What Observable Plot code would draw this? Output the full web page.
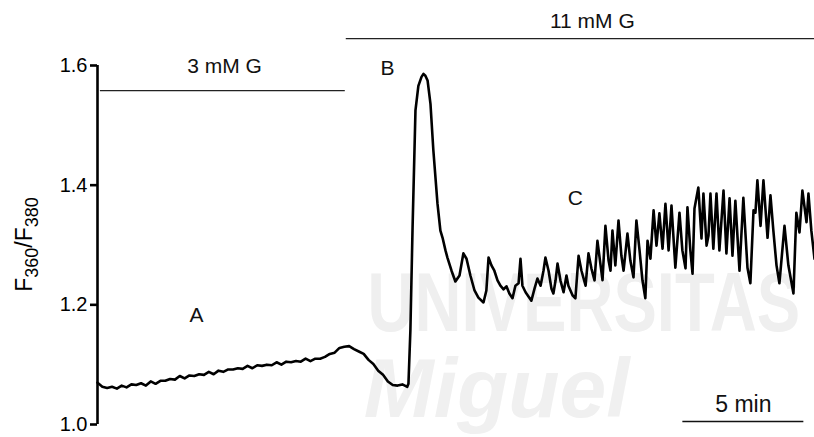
<!DOCTYPE html>
<html>
<head>
<meta charset="utf-8">
<script src="https://cdn.jsdelivr.net/npm/d3@7"></script>
<script src="https://cdn.jsdelivr.net/npm/@observablehq/plot@0.6"></script>
<style>
  html, body { margin: 0; padding: 0; background: #fff; }
  #chart svg { display: block; }
</style>
</head>
<body>
<div id="chart"></div>
<script>
// ---- Data (time in minutes, fluorescence ratio F360/F380) ----
const timeLowGlucose = [0,0.2,0.4,0.6,0.8,1.0,1.2,1.4,1.6,1.8,2.0,2.2,2.4,2.6,2.8,3.0,3.2,3.4,3.6,3.8,4.0,4.2,4.4,4.6,4.8,5.0,5.2,5.4,5.6,5.8,6.0,6.2,6.4,6.6,6.8,7.0,7.2,7.4,7.6,7.8,8.0,8.2,8.4,8.6,8.8,9.0,9.2,9.4,9.6,9.8,10.0,10.2,10.4,10.6,10.8,11.0,11.2,11.4,11.6,11.8,12.0,12.2,12.4,12.6,12.8];
const ratioLowGlucose = [1.070,1.063,1.061,1.063,1.060,1.065,1.062,1.067,1.066,1.069,1.065,1.072,1.068,1.073,1.073,1.076,1.075,1.081,1.077,1.082,1.081,1.084,1.083,1.088,1.084,1.090,1.088,1.092,1.092,1.094,1.093,1.098,1.094,1.099,1.098,1.100,1.099,1.104,1.100,1.105,1.104,1.106,1.105,1.110,1.106,1.110,1.110,1.113,1.118,1.120,1.128,1.130,1.131,1.126,1.122,1.118,1.108,1.101,1.090,1.083,1.072,1.066,1.065,1.067,1.063];
const timeHighGlucose = [12.85,12.93,13.02,13.14,13.26,13.39,13.47,13.55,13.64,13.76,13.88,14.05,14.17,14.26,14.38,14.46,14.63,14.79,14.96,15.12,15.25,15.41,15.58,15.74,15.95,16.07,16.16,16.28,16.40,16.53,16.65,16.78,16.90,17.02,17.15,17.27,17.40,17.48,17.56,17.69,17.81,17.93,18.06,18.18,18.31,18.43,18.51,18.64,18.76,18.84,18.93,19.01,19.13,19.26,19.38,19.46,19.63,19.75,19.88,20.00,20.17,20.29,20.41,20.54,20.66,20.79,20.87,20.99,21.12,21.20,21.28,21.40,21.53,21.65,21.74,21.90,22.02,22.15,22.27,22.40,22.52,22.64,22.73,22.85,22.98,23.10,23.22,23.35,23.47,23.60,23.72,23.88,24.05,24.17,24.30,24.38,24.50,24.59,24.67,24.83,24.96,25.04,25.17,25.25,25.33,25.45,25.58,25.70,25.87,25.99,26.12,26.24,26.36,26.53,26.69,26.86,26.98,27.11,27.19,27.27,27.40,27.52,27.69,27.81,27.93,28.06,28.18,28.39,28.55,28.76,28.88,29.01,29.13,29.30,29.38,29.50,29.63];
const ratioHighGlucose = [1.068,1.157,1.329,1.525,1.566,1.581,1.586,1.583,1.575,1.536,1.458,1.369,1.324,1.312,1.291,1.279,1.257,1.239,1.249,1.286,1.277,1.249,1.224,1.212,1.204,1.224,1.279,1.266,1.257,1.241,1.232,1.226,1.231,1.219,1.211,1.232,1.236,1.277,1.232,1.221,1.214,1.207,1.227,1.244,1.232,1.257,1.279,1.257,1.227,1.219,1.241,1.269,1.241,1.221,1.249,1.232,1.216,1.211,1.282,1.257,1.232,1.286,1.261,1.241,1.307,1.266,1.241,1.332,1.274,1.257,1.324,1.266,1.341,1.282,1.257,1.319,1.274,1.246,1.341,1.291,1.241,1.211,1.307,1.277,1.358,1.299,1.353,1.294,1.369,1.291,1.366,1.262,1.354,1.291,1.261,1.363,1.291,1.252,1.361,1.396,1.311,1.386,1.299,1.316,1.386,1.294,1.386,1.291,1.391,1.286,1.378,1.282,1.374,1.257,1.379,1.262,1.236,1.358,1.354,1.408,1.332,1.408,1.312,1.383,1.324,1.266,1.236,1.332,1.266,1.219,1.354,1.321,1.391,1.338,1.386,1.324,1.277];

// stimulus periods (glucose)
const stimLabels = ["3 mM G", "11 mM G"];
const stimStart = [0.12, 10.28];
const stimEnd = [10.24, 29.63];
const stimLevel = [1.558, 1.645];
const stimLabelTime = [5.25, 20.45];
const stimLabelLevel = [1.598, 1.674];

// phase annotations
const phaseLabels = ["A", "B", "C"];
const phaseTime = [4.09, 11.98, 19.75];
const phaseRatio = [1.182, 1.595, 1.378];

// y ticks
const yTicks = [1.0, 1.2, 1.4, 1.6];

// time scale bar
const scaleBarStart = 24.19;
const scaleBarLength = 5;
const scaleBarLevel = 1.005;
const scaleBarLabel = "5 min";
const scaleBarLabelLevel = 1.033;

// background watermark text
const watermarkText = ["UNIVERSITAS", "Miguel"];
const watermarkTime = [11.16, 11.0];
const watermarkLevel = [1.157, 1.012];

// ---- Build tables ----
const trace = timeLowGlucose.map((t, i) => ({t, v: ratioLowGlucose[i]}))
  .concat(timeHighGlucose.map((t, i) => ({t, v: ratioHighGlucose[i]})));
const stimuli = stimLabels.map((label, i) => ({label, x1: stimStart[i], x2: stimEnd[i], y: stimLevel[i], lx: stimLabelTime[i], ly: stimLabelLevel[i]}));
const phases = phaseLabels.map((label, i) => ({label, t: phaseTime[i], v: phaseRatio[i]}));
const scaleBar = [{x1: scaleBarStart, x2: scaleBarStart + scaleBarLength, y: scaleBarLevel, label: scaleBarLabel, lx: scaleBarStart + scaleBarLength / 2, ly: scaleBarLabelLevel}];

const font = "'Liberation Sans', Arial, Helvetica, sans-serif";

const chart = Plot.plot({
  width: 814,
  height: 437,
  marginLeft: 97,
  marginRight: 0,
  marginTop: 65,
  marginBottom: 13,
  style: {fontFamily: font, background: "#fff", color: "#000", overflow: "visible"},
  x: {domain: [0, 29.63], axis: null},
  y: {domain: [1.0, 1.6], axis: null},
  marks: [
    // watermark
    Plot.text([0], {x: watermarkTime[0], y: watermarkLevel[0], text: [watermarkText[0]], textAnchor: "start", lineAnchor: "bottom",
      fontSize: 84, fontWeight: "bold", fill: "#efefef", fontFamily: font}),
    Plot.text([0], {x: watermarkTime[1], y: watermarkLevel[1], text: [watermarkText[1]], textAnchor: "start", lineAnchor: "bottom",
      fontSize: 84, fontStyle: "italic", fontWeight: "bold", fill: "#f0f0f0", fontFamily: font}),
    // y axis
    Plot.ruleX([0], {y1: yTicks[0], y2: yTicks[yTicks.length - 1], strokeWidth: 2.6, stroke: "#000"}),
    Plot.axisY({ticks: yTicks, tickFormat: d => d.toFixed(1), tickSize: 7, tickPadding: 3, fontSize: 20, strokeWidth: 2.6}),
    // stimulus bars
    Plot.ruleY(stimuli, {x1: "x1", x2: "x2", y: "y", stroke: "#222", strokeWidth: 1.4}),
    Plot.text(stimuli, {x: "lx", y: "ly", text: "label", fontSize: 21, fill: "#111"}),
    // trace
    Plot.line(trace, {x: "t", y: "v", stroke: "#000", strokeWidth: 2.6, strokeLinejoin: "round"}),
    // phase labels
    Plot.text(phases, {x: "t", y: "v", text: "label", fontSize: 21, fill: "#111"}),
    // scale bar
    Plot.ruleY(scaleBar, {x1: "x1", x2: "x2", y: "y", stroke: "#111", strokeWidth: 1.5}),
    Plot.text(scaleBar, {x: "lx", y: "ly", text: "label", fontSize: 23, fill: "#111"})
  ]
});

// condense the bold watermark word horizontally (narrow letterforms as in the reference)
d3.select(chart).selectAll("text").filter(function() { return this.textContent === "UNIVERSITAS"; })
  .each(function() {
    const el = d3.select(this);
    const x = +el.attr("x") || 0, y = +el.attr("y") || 0;
    const tr = el.attr("transform") || "";
    el.attr("transform", `${tr} translate(${x},${y}) scale(0.775,1) translate(${-x},${-y})`);
  });

// y-axis title with subscripts
const yMid = chart.scale("y").apply(1.3);
const lab = d3.select(chart).append("text")
  .attr("transform", `translate(32,${yMid}) rotate(-90)`)
  .attr("text-anchor", "middle")
  .attr("font-family", font)
  .attr("font-size", 23)
  .attr("fill", "#000");
lab.append("tspan").text("F");
lab.append("tspan").attr("font-size", 18).attr("dy", 6).text("360");
lab.append("tspan").attr("dy", -6).text("/F");
lab.append("tspan").attr("font-size", 18).attr("dy", 6).text("380");

document.getElementById("chart").appendChild(chart);
</script>
</body>
</html>
